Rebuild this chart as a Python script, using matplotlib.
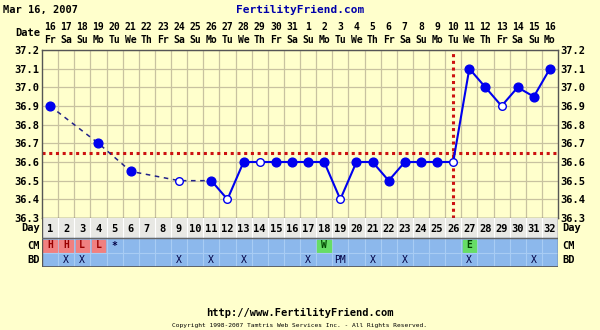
import matplotlib.pyplot as plt
import numpy as np
import datetime as dt

# chart data
start_date = dt.date(2007, 3, 16)
temps = [36.9, None, None, 36.7, None, 36.55, None, None, 36.5, None,
         36.5, 36.4, 36.6, 36.6, 36.6, 36.6, 36.6, 36.6, 36.4, 36.6,
         36.6, 36.5, 36.6, 36.6, 36.6, 36.6, 37.1, 37.0, 36.9, 37.0,
         36.95, 37.1]
open_days = [9, 12, 14, 19, 26, 29]
dashed_until = 11
coverline = 36.65
ovulation_day = 26
cm = ['H', 'H', 'L', 'L', '*', '', '', '', '', '', '', '', '', '', '', '',
      '', 'W', '', '', '', '', '', '', '', '', 'E', '', '', '', '', '']
bd = ['', 'X', 'X', '', '', '', '', '', 'X', '', 'X', '', 'X', '', '', '',
      'X', '', 'PM', '', 'X', '', 'X', '', '', '', 'X', '', '', '', 'X', '']

BG = '#FFFFCC'
GRID = '#C8C2A0'
BLUE = '#0000EE'
NAVY = '#222288'
RED = '#CC1111'
ROWBLUE = '#8CB8EC'
FONT = 'DejaVu Sans Mono'

n = len(temps)
days = np.arange(1, n + 1)
t = np.array([np.nan if v is None else v for v in temps])

fig = plt.figure(figsize=(6, 3.3), dpi=100, facecolor=BG)
ax = fig.add_axes([42/600, 1 - 218/330, 516/600, 168/330])
ax.set_facecolor(BG)
ax.set_xlim(0.5, n + 0.5)
ax.set_ylim(36.3, 37.2)
for x in np.arange(1.5, n, 1):
    ax.axvline(x, color=GRID, lw=0.9, zorder=0)
for y in np.arange(36.4, 37.2, 0.1):
    ax.axhline(y, color=GRID, lw=0.9, zorder=0)
for s in ax.spines.values():
    s.set_color('#555555')
    s.set_linewidth(1)
ax.set_xticks([])
yt = np.round(np.arange(36.3, 37.21, 0.1), 1)
ax.set_yticks(yt)
ax.set_yticklabels(['%.1f' % v for v in yt], fontsize=7.5, fontweight='bold', family=FONT)
ax.tick_params(axis='y', length=0, pad=2, labelright=True, labelleft=True)

# coverline and ovulation line
ax.axhline(coverline, color=RED, lw=2.2, ls=(0, (1, 1.2)), zorder=2)
ax.axvline(ovulation_day, color=RED, lw=2.2, ls=(0, (1, 1.2)), zorder=2)

valid = ~np.isnan(t)
d1 = valid & (days <= dashed_until)
ax.plot(days[d1], t[d1], color=NAVY, lw=1.1, ls=(0, (3, 3)), zorder=3)
d2 = valid & (days >= dashed_until)
ax.plot(days[d2], t[d2], color=BLUE, lw=1.5, zorder=3)
is_open = np.isin(days, open_days)
filled = valid & ~is_open
ax.plot(days[filled], t[filled], 'o', color=BLUE, ms=6.3, zorder=4)
ax.plot(days[is_open & valid], t[is_open & valid], 'o', mfc='white', mec=BLUE,
        mew=1.0, ms=5.5, zorder=4)

# header
fig.text(3/600, 1 - 10/330, 'Mar 16, 2007', fontsize=7.5, fontweight='bold',
         family=FONT, va='center', ha='left')
fig.text(300/600, 1 - 10/330, 'FertilityFriend.com', fontsize=8, fontweight='bold',
         family=FONT, va='center', ha='center', color='#0000AA')
fig.text(40/600, 1 - 33/330, 'Date', fontsize=7.5, fontweight='bold',
         family=FONT, va='center', ha='right')
for i in range(n):
    d = start_date + dt.timedelta(days=i)
    x = (42 + (i + 0.5) * 516 / n) / 600
    fig.text(x, 1 - 27/330, str(d.day), fontsize=7, fontweight='bold',
             family=FONT, va='center', ha='center')
    fig.text(x, 1 - 40/330, d.strftime('%a')[:2], fontsize=7, fontweight='bold',
             family=FONT, va='center', ha='center')

# table rows below
tx = fig.add_axes([42/600, 1 - 267/330, 516/600, 49/330])
tx.set_xlim(0.5, n + 0.5)
tx.set_ylim(49, 0)
tx.axis('off')
tx.add_patch(plt.Rectangle((0.5, 0), n, 20, color='#E8E8E4', zorder=0))
tx.add_patch(plt.Rectangle((0.5, 20), n, 29, color=ROWBLUE, zorder=0))
for x in np.arange(1.5, n, 1):
    tx.plot([x, x], [0, 20], color='#FFFFFF', lw=0.8, zorder=1)
    tx.plot([x, x], [20, 49], color='#A8CCF4', lw=0.8, zorder=1)
tx.plot([0.5, n + 0.5], [34.5, 34.5], color='#A8CCF4', lw=0.8)
tx.plot([0.5, 0.5], [0, 49], color='#555555', lw=1)
tx.plot([n + 0.5, n + 0.5], [0, 49], color='#555555', lw=1)
tx.plot([0.5, n + 0.5], [49, 49], color='#555555', lw=1.2)
tx.plot([0.5, n + 0.5], [20, 20], color='#666666', lw=1)
for i in range(n):
    dd = i + 1
    tx.text(dd, 11, str(dd), fontsize=7.5, fontweight='bold', family=FONT,
            ha='center', va='center')
    c = cm[i]
    if c in ('H', 'L'):
        tx.add_patch(plt.Rectangle((dd - 0.42, 21.5), 0.84, 12, color='#F08080', zorder=1))
        tx.text(dd, 27.5, c, fontsize=7, fontweight='bold', family=FONT,
                ha='center', va='center', color='#990000', zorder=2)
    elif c in ('W', 'E'):
        tx.add_patch(plt.Rectangle((dd - 0.42, 21.5), 0.84, 12, color='#66DD66', zorder=1))
        tx.text(dd, 27.5, c, fontsize=7, fontweight='bold', family=FONT,
                ha='center', va='center', color='#004400', zorder=2)
    elif c:
        tx.text(dd, 27.5, c, fontsize=7, fontweight='bold', family=FONT,
                ha='center', va='center', color='#000044', zorder=2)
    if bd[i]:
        tx.text(dd, 42, bd[i], fontsize=7, family=FONT, ha='center', va='center',
                color='#000044', zorder=2)

for lbl, yy in [('Day', 228), ('CM', 246), ('BD', 260)]:
    fig.text(40/600, 1 - yy/330, lbl, fontsize=7.5, fontweight='bold',
             family=FONT, va='center', ha='right')
    fig.text(562/600, 1 - yy/330, lbl, fontsize=7.5, fontweight='bold',
             family=FONT, va='center', ha='left')

# footer
fig.text(300/600, 1 - 313/330, 'http://www.FertilityFriend.com', fontsize=7.5,
         fontweight='bold', family=FONT, va='center', ha='center')
fig.text(300/600, 1 - 325/330,
         'Copyright 1998-2007 Tamtris Web Services Inc. - All Rights Reserved.',
         fontsize=4.5, family=FONT, va='center', ha='center')

fig.savefig('out.png', dpi=100, facecolor=BG)
